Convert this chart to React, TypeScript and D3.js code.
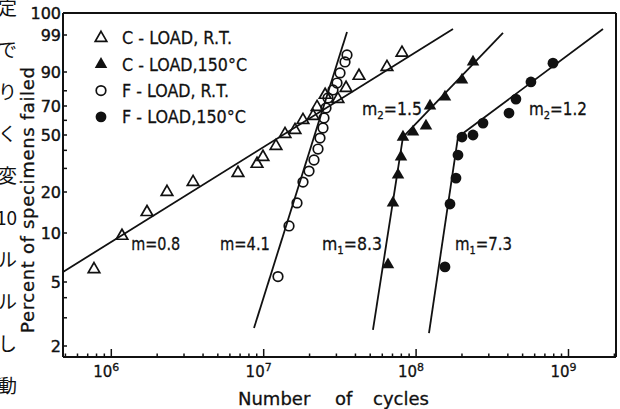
import * as d3 from "d3";

const cLoadRTCycles = [7.7e5, 1.175e6, 1.715e6, 2.32e6, 3.44e6, 6.78e6, 9.04e6, 9.89e6, 1.204e7, 1.38e7, 1.605e7, 1.81e7, 2.11e7, 2.24e7, 2.53e7, 3.07e7, 3.47e7, 4.22e7, 6.44e7, 8.08e7];
const cLoadRTPct = [6.0, 9.6, 14.3, 20.0, 23.8, 27.8, 32.3, 36.1, 42.7, 50.6, 53.3, 60.2, 63.0, 69.3, 77.4, 74.7, 81.7, 88.2, 92.0, 96.3];

const fLoadRTCycles = [1.241e7, 1.466e7, 1.654e7, 1.811e7, 1.983e7, 2.138e7, 2.272e7, 2.341e7, 2.449e7, 2.487e7, 2.563e7, 2.642e7, 2.849e7, 3.027e7, 3.168e7, 3.416e7, 3.52e7];
const fLoadRTPct = [5.4, 11.3, 16.7, 23.8, 28.7, 34.4, 40.8, 47.9, 54.7, 61.6, 68.6, 75.4, 80.5, 84.5, 89.6, 93.8, 95.8];

const cLoad150Cycles = [6.54e7, 7.05e7, 7.61e7, 7.96e7, 8.2e7, 9.54e7, 1.161e8, 1.234e8, 1.547e8, 2.001e8, 2.363e8];
const cLoad150Pct = [6.4, 16.7, 26.9, 36.1, 48.6, 52.0, 56.1, 70.0, 76.1, 86.2, 93.8];

const fLoad150Cycles = [1.547e8, 1.669e8, 1.827e8, 1.883e8, 2.001e8, 2.363e8, 2.748e8, 4.07e8, 4.52e8, 5.67e8, 7.91e8];
const fLoad150Pct = [6.2, 16.4, 25.5, 37.2, 48.6, 50.0, 58.1, 65.1, 74.7, 85.1, 93.4];

// fitted lines, [start, end]
const fitCycles = [
  [4.82e5, 1.746e8],
  [8.64e6, 3.52e7],
  [5.21e7, 8.2e7],
  [8.2e7, 3.717e8],
  [1.215e8, 1.883e8],
  [1.883e8, 1.684e9],
];
const fitPct = [
  [5.77, 99.42],
  [2.59, 99.23],
  [2.52, 48.6],
  [48.6, 99.16],
  [2.41, 48.6],
  [48.6, 99.42],
];

const slopeLabels = [
  { sub: "", rest: "=0.8", cycles: 1.35e6, pct: 7.9, len: 49 },
  { sub: "", rest: "=4.1", cycles: 5.16e6, pct: 7.9, len: 50 },
  { sub: "1", rest: "=8.3", cycles: 2.41e7, pct: 7.9, len: 60 },
  { sub: "1", rest: "=7.3", cycles: 1.8e8, pct: 7.9, len: 57 },
  { sub: "2", rest: "=1.5", cycles: 4.41e7, pct: 63.7, len: 60 },
  { sub: "2", rest: "=1.2", cycles: 5.51e8, pct: 63.7, len: 58 },
];

const legendLabels = ["C - LOAD, R.T.", "C - LOAD,150°C", "F - LOAD, R.T.", "F - LOAD,150°C"];
const legendLens = [110, 125, 107, 124];

const tickPct = [2, 5, 10, 20, 50, 70, 90, 99, 99.9];
const tickLabels = ["2", "5", "10", "20", "50", "70", "90", "99", "100"];
const minorPct = [3, 4, 30, 40, 60, 80];

// the neighbouring page's text, cut off at the left edge
const sideText = ["定", "で", "り", "く", "変", "10", "ル", "ル", "し", "動"];

const width = 620;
const height = 409;
const marginLeft = 63;
const marginRight = 4;
const marginTop = 13;
const marginBottom = 52;
// scanned paper is not a perfect Weibull grid, rows measured per tick (px from top)
const paperRows = [333, 269, 220, 179, 122, 93, 59, 22, 0];

const weib = (p: number) => Math.log(-Math.log(1 - p / 100));

export default function App() {
  const x = d3.scaleLog()
    .domain([4.82e5, 2.05e9])
    .range([marginLeft, width - marginRight]);

  const y = d3.scaleLinear()
    .domain(tickPct.map(weib))
    .range(paperRows.map(r => marginTop + r));

  const py = (p: number) => y(weib(p));
  const bottom = height - marginBottom;
  const right = width - marginRight;

  const line = d3.line<[number, number]>()
    .x(d => x(d[0]))
    .y(d => py(d[1]));

  const tri = d3.symbol(d3.symbolTriangle, 58)();
  const triFilled = d3.symbol(d3.symbolTriangle, 68)();

  const xTicks = x.ticks().filter(t => t >= 4.82e5 && t <= 2.05e9);
  const isMajor = (t: number) => Math.abs(Math.log10(t) - Math.round(Math.log10(t))) < 1e-6;

  const marker = (kind: number, cx: number, cy: number, key: string) => {
    if (kind === 0) return <path key={key} d={tri!} transform={`translate(${cx},${cy})`} fill="none" stroke="#111" strokeWidth={1.7} />;
    if (kind === 1) return <path key={key} d={triFilled!} transform={`translate(${cx},${cy})`} fill="#111" />;
    if (kind === 2) return <circle key={key} cx={cx} cy={cy} r={4.8} fill="none" stroke="#111" strokeWidth={1.7} />;
    return <circle key={key} cx={cx} cy={cy} r={5.4} fill="#111" />;
  };

  const series = [
    [cLoadRTCycles, cLoadRTPct],
    [cLoad150Cycles, cLoad150Pct],
    [fLoadRTCycles, fLoadRTPct],
    [fLoad150Cycles, fLoad150Pct],
  ];

  return (
    <svg width={width} height={height} style={{ position: "absolute", left: 0, top: 0, background: "#fff" }} fontFamily="DejaVu Sans" fill="#111">
      <g fontFamily="Noto Sans CJK JP" fontSize={19} textAnchor="end">
        {sideText.map((s, i) => (
          <text key={i} x={17} y={8 + i * 42} dy="0.38em">{s}</text>
        ))}
      </g>

      {/* frame */}
      <g stroke="#111" strokeWidth={2} fill="none">
        <line x1={marginLeft} x2={right} y1={marginTop} y2={marginTop} />
        <line x1={marginLeft} x2={right} y1={bottom} y2={bottom} />
        <line x1={marginLeft} x2={marginLeft} y1={marginTop} y2={bottom} />
        <line x1={right} x2={right} y1={marginTop} y2={bottom} />
      </g>

      {/* y ticks */}
      <g stroke="#111" strokeWidth={1.5}>
        {tickPct.slice(0, -1).concat(minorPct).map(p => (
          <line key={p} x1={marginLeft} x2={marginLeft + 4} y1={py(p)} y2={py(p)} />
        ))}
      </g>
      <g fontSize={16} textAnchor="end" stroke="#111" strokeWidth={0.4}>
        {tickPct.map((p, i) => (
          <text key={p} x={marginLeft - 2} y={py(p)} dy="0.36em">{tickLabels[i]}</text>
        ))}
      </g>

      {/* x ticks */}
      <g stroke="#111" strokeWidth={1.5}>
        {xTicks.map(t => (
          <line key={t} x1={x(t)} x2={x(t)} y1={bottom} y2={bottom - (isMajor(t) ? 8 : 3.5)} />
        ))}
      </g>
      <g fontSize={15} stroke="#111" strokeWidth={0.3}>
        {xTicks.filter(isMajor).map(t => (
          <text key={t} x={x(t) + 8} y={bottom + 20} textAnchor="end">
            10
            <tspan dy={-6} fontSize={11} textAnchor="start">{Math.round(Math.log10(t))}</tspan>
          </text>
        ))}
      </g>

      <g stroke="#111" strokeWidth={0.3}>
        <text fontSize={18} y={height - 4}>
          <tspan x={238}>Number</tspan>{" "}
          <tspan x={335}>of</tspan>{" "}
          <tspan x={373}>cycles</tspan>
        </text>
        <text fontSize={18} transform={`translate(34,200) rotate(-90)`} textAnchor="middle" textLength={266} lengthAdjust="spacing">
          Percent of specimens failed
        </text>
      </g>

      {/* fitted lines */}
      <g stroke="#111" strokeWidth={1.8} fill="none">
        {fitCycles.map((c, i) => (
          <path key={i} d={line([[c[0], fitPct[i][0]], [c[1], fitPct[i][1]]])!} />
        ))}
      </g>

      {/* points */}
      <g>
        {series.map(([cyc, pct], k) => cyc.map((c, i) => marker(k, x(c), py(pct[i]), `${k}-${i}`)))}
      </g>

      {/* slope labels */}
      <g fontSize={17} stroke="#111" strokeWidth={0.3}>
        {slopeLabels.map((l, i) => (
          <text key={i} x={x(l.cycles)} y={py(l.pct)} textLength={l.len} lengthAdjust="spacingAndGlyphs">
            m
            {l.sub ? <tspan fontSize={11} dy={4}>{l.sub}</tspan> : null}
            <tspan dy={l.sub ? -4 : 0}>{l.rest}</tspan>
          </text>
        ))}
      </g>

      {/* legend */}
      <g fontSize={18}>
        {legendLabels.map((s, i) => {
          const cy = 38 + i * 26.3;
          return (
            <g key={s}>
              {marker(i, 101, cy, `lg${i}`)}
              <text x={122} y={cy} dy="0.36em" textLength={legendLens[i]} lengthAdjust="spacingAndGlyphs" stroke="#111" strokeWidth={0.3}>{s}</text>
            </g>
          );
        })}
      </g>
    </svg>
  );
}
